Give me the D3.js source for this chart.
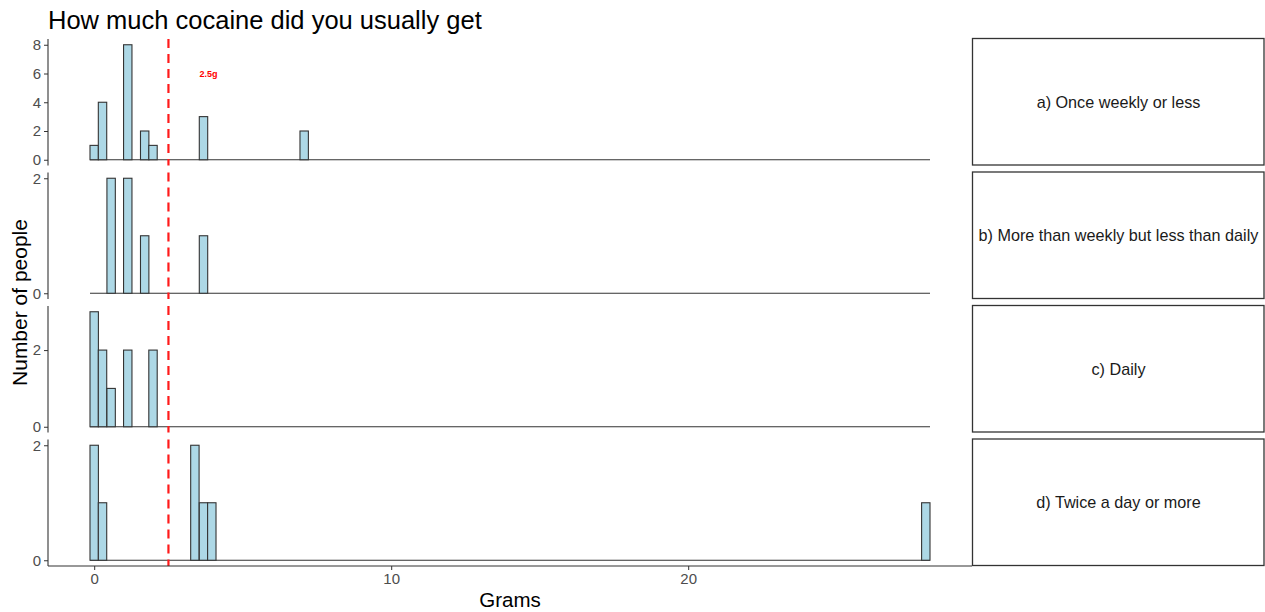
<!DOCTYPE html>
<html>
<head>
<meta charset="utf-8">
<script src="https://cdn.jsdelivr.net/npm/d3@7"></script>
<style>
  body { margin: 0; background: #fff; }
  text { font-family: "Liberation Sans", Arial, sans-serif; }
</style>
</head>
<body>
<svg id="chart" width="1265" height="612"></svg>
<script>
// facet labels
const facets = ['a) Once weekly or less', 'b) More than weekly but less than daily', 'c) Daily', 'd) Twice a day or more'];
// bin centres (grams) and counts per facet
const gramsA = [0, 0.28, 1.13, 1.7, 1.98, 3.68, 7.07];
const countsA = [1, 4, 8, 2, 1, 3, 2];
const gramsB = [0.57, 1.13, 1.7, 3.68];
const countsB = [2, 2, 1, 1];
const gramsC = [0, 0.28, 0.57, 1.13, 1.98];
const countsC = [3, 2, 1, 2, 2];
const gramsD = [0, 0.28, 3.39, 3.68, 3.96, 28];
const countsD = [2, 1, 2, 1, 1, 1];
const yMax = [8, 2, 3, 2];
const yTicks = [[0, 2, 4, 6, 8], [0, 2], [0, 2], [0, 2]];
const xTicks = [0, 10, 20];
const binWidth = 28 / 99;
const xMin = 0, xMaxData = 28;
const cutoff = 2.5;
const cutoffLabel = '2.5g';
const cutoffLabelPos = [3.85, 6];

const gramsAll = [gramsA, gramsB, gramsC, gramsD];
const countsAll = [countsA, countsB, countsC, countsD];

const svg = d3.select('#chart');
const padL = 48, padR = 972, padT = 39, panelH = 126.5, gap = 7;
const stripRight = 1265;

const lo = xMin - binWidth / 2, hi = xMaxData + binWidth / 2;
const pad = (hi - lo) * 0.05;
const x = d3.scaleLinear().domain([lo - pad, hi + pad]).range([padL, padR]);

// title
svg.append('text')
    .attr('x', 48).attr('y', 29)
    .style('font-size', '25.5px').attr('fill', '#000')
    .text('How much cocaine did you usually get');

facets.forEach(function (name, i) {
    const y0 = padT + i * (panelH + gap);
    const y1 = y0 + panelH;
    const e = yMax[i] * 0.05;
    const y = d3.scaleLinear().domain([-e, yMax[i] + e]).range([y1, y0]);
    const g = svg.append('g');

    // baseline of empty bins
    g.append('line')
        .attr('x1', x(lo)).attr('x2', x(hi))
        .attr('y1', y(0)).attr('y2', y(0))
        .attr('stroke', '#333').attr('stroke-width', 1.1);

    const data = gramsAll[i].map(function (v, j) { return { g: v, n: countsAll[i][j] }; });
    g.selectAll('rect.bar')
        .data(data)
        .join('rect')
        .attr('class', 'bar')
        .attr('x', function (d) { return x(d.g - binWidth / 2); })
        .attr('width', function (d) { return x(d.g + binWidth / 2) - x(d.g - binWidth / 2); })
        .attr('y', function (d) { return y(d.n); })
        .attr('height', function (d) { return y(0) - y(d.n); })
        .attr('fill', '#ADD8E6')
        .attr('stroke', '#333')
        .attr('stroke-width', 1.1);

    // cutoff line
    g.append('line')
        .attr('x1', x(cutoff)).attr('x2', x(cutoff))
        .attr('y1', y0).attr('y2', y1)
        .attr('stroke', '#ff1a1a').attr('stroke-width', 2.2)
        .attr('stroke-dasharray', '9,6');

    if (i === 0) {
        g.append('text')
            .attr('x', x(cutoffLabelPos[0])).attr('y', y(cutoffLabelPos[1]))
            .attr('dy', '0.35em')
            .attr('text-anchor', 'middle')
            .style('font-size', '9px').style('font-weight', 'bold')
            .attr('fill', '#ff0000')
            .text(cutoffLabel);
    }

    // y axis
    const yAxisG = g.append('g').attr('transform', `translate(${padL},0)`);
    yAxisG.call(d3.axisLeft(y).tickValues(yTicks[i]).tickFormat(d3.format('d')).tickSize(4).tickPadding(3))
        .call(function (s) { s.select('.domain').attr('d', `M0,${y0}V${y1}`).attr('stroke', '#333').attr('stroke-width', 1.1); })
        .call(function (s) { s.selectAll('.tick line').attr('stroke', '#333'); })
        .call(function (s) { s.selectAll('.tick text').style('font-size', '15px').attr('fill', '#4d4d4d').style('font-family', '"Liberation Sans", Arial, sans-serif'); });

    // strip
    g.append('rect')
        .attr('x', padR + 0.5).attr('y', y0 - 0.5)
        .attr('width', stripRight - padR - 1.5).attr('height', panelH)
        .attr('fill', '#fff').attr('stroke', '#333').attr('stroke-width', 1.3);
    g.append('text')
        .attr('x', (padR + stripRight) / 2).attr('y', (y0 + y1) / 2)
        .attr('dy', '0.35em').attr('text-anchor', 'middle')
        .style('font-size', '16.2px').attr('fill', '#1a1a1a')
        .text(name);
});

// x axis
const padB = padT + 4 * panelH + 3 * gap;
const xAxisG = svg.append('g').attr('transform', `translate(0,${padB})`);
xAxisG.call(d3.axisBottom(x).tickValues(xTicks).tickSize(4).tickPadding(3))
    .call(function (s) { s.select('.domain').attr('d', `M${padL},0H${padR}`).attr('stroke', '#333').attr('stroke-width', 1.1); })
    .call(function (s) { s.selectAll('.tick line').attr('stroke', '#333'); })
    .call(function (s) { s.selectAll('.tick text').style('font-size', '15px').attr('fill', '#4d4d4d').style('font-family', '"Liberation Sans", Arial, sans-serif'); });

svg.append('text')
    .attr('x', (padL + padR) / 2).attr('y', 607)
    .attr('text-anchor', 'middle')
    .style('font-size', '20.5px').attr('fill', '#000')
    .text('Grams');

svg.append('text')
    .attr('transform', `translate(27,${(padT + padB) / 2}) rotate(-90)`)
    .attr('text-anchor', 'middle')
    .style('font-size', '21px').attr('fill', '#000')
    .text('Number of people');
</script>
</body>
</html>
